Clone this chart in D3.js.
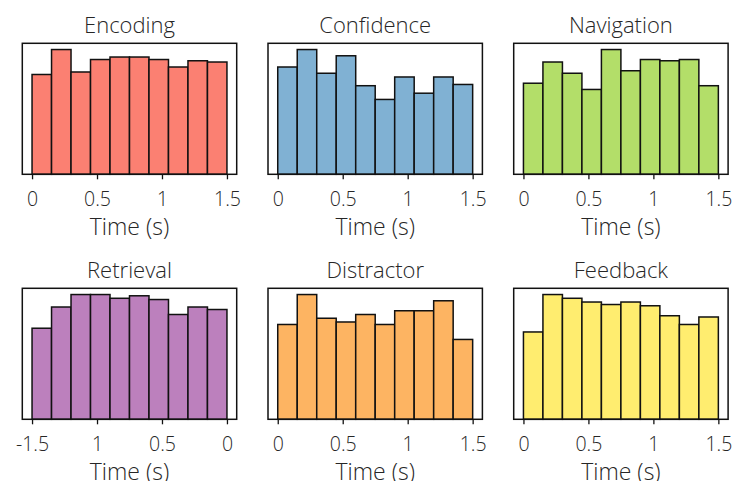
<!DOCTYPE html>
<html>
<head>
<meta charset="utf-8">
<script src="https://cdn.jsdelivr.net/npm/d3@7"></script>
<style>
  html, body { margin: 0; padding: 0; background: #fff; }
  svg text { font-family: 'Open Sans', 'Noto Sans', sans-serif; font-weight: 300; fill: #262626; }
</style>
</head>
<body>
<div id="chart"></div>
<script>
// Six histograms of event times, 10 bins each
const titles = ['Encoding', 'Confidence', 'Navigation', 'Retrieval', 'Distractor', 'Feedback'];
const colors = ['#fb8072', '#80b1d3', '#b3de69', '#bc80bd', '#fdb462', '#ffed6f'];

const edgesPos = [0, 0.15, 0.3, 0.45, 0.6, 0.75, 0.9, 1.05, 1.2, 1.35, 1.5];
const edgesNeg = [-1.5, -1.35, -1.2, -1.05, -0.9, -0.75, -0.6, -0.45, -0.3, -0.15, 0];

const countsEncoding   = [80, 100, 82, 92, 94, 94, 92, 86, 91, 90];
const countsConfidence = [86, 100, 81, 95, 71, 60, 78, 65, 78, 72];
const countsNavigation = [73, 90, 81, 68, 100, 83, 92, 91, 92, 71];
const countsRetrieval  = [73, 90, 100, 100, 97, 99, 96, 84, 90, 88];
const countsDistractor = [76, 100, 81, 78, 84, 76, 87, 87, 95, 64];
const countsFeedback   = [70, 100, 97, 94, 92, 94, 91, 83, 76, 82];

const ticksPos = [0, 0.5, 1, 1.5];
const tickLabelsPos = ['0', '0.5', '1', '1.5'];
const ticksNeg = [-1.5, -1, -0.5, 0];
const tickLabelsNeg = ['-1.5', '1', '0.5', '0'];   // as printed in the source

const xLabel = 'Time (s)';

const panels = [
  { counts: countsEncoding,   edges: edgesPos, ticks: ticksPos, labels: tickLabelsPos },
  { counts: countsConfidence, edges: edgesPos, ticks: ticksPos, labels: tickLabelsPos },
  { counts: countsNavigation, edges: edgesPos, ticks: ticksPos, labels: tickLabelsPos },
  { counts: countsRetrieval,  edges: edgesNeg, ticks: ticksNeg, labels: tickLabelsNeg },
  { counts: countsDistractor, edges: edgesPos, ticks: ticksPos, labels: tickLabelsPos },
  { counts: countsFeedback,   edges: edgesPos, ticks: ticksPos, labels: tickLabelsPos },
];

const W = 735, H = 481;
const left0 = 22.3, colStep = 245.7, pw = 214.4;
const top0 = 43.3, rowStep = 245, ph = 131;

const svg = d3.select('#chart').append('svg').attr('width', W).attr('height', H);

panels.forEach((p, i) => {
  const col = i % 3, row = Math.floor(i / 3);
  const g = svg.append('g')
    .attr('transform', `translate(${left0 + col * colStep},${top0 + row * rowStep})`);

  const lo = p.edges[0], hi = p.edges[p.edges.length - 1];
  const pad = (hi - lo) * 0.05;
  const x = d3.scaleLinear().domain([lo - pad, hi + pad]).range([0, pw]);
  const y = d3.scaleLinear().domain([0, d3.max(p.counts) * 1.05]).range([ph, 0]);

  const bins = p.counts.map((c, k) => ({ x0: p.edges[k], x1: p.edges[k + 1], c }));
  g.selectAll('rect.bar').data(bins).enter().append('rect')
    .attr('class', 'bar')
    .attr('x', d => x(d.x0))
    .attr('width', d => x(d.x1) - x(d.x0))
    .attr('y', d => y(d.c))
    .attr('height', d => y(0) - y(d.c))
    .attr('fill', colors[i])
    .attr('stroke', '#111')
    .attr('stroke-width', 1.5);

  // frame
  g.append('rect').attr('width', pw).attr('height', ph)
    .attr('fill', 'none').attr('stroke', '#111').attr('stroke-width', 1.5);

  const ax = g.append('g').attr('transform', `translate(0,${ph})`)
    .call(d3.axisBottom(x).tickValues(p.ticks).tickFormat((d, k) => p.labels[k]).tickSize(5).tickPadding(12.5));
  ax.select('.domain').remove();
  ax.selectAll('line').attr('stroke', '#111').attr('stroke-width', 1.3);
  ax.selectAll('text').style('font-size', '19.5px').style('font-family', null).attr('fill', '#262626');

  g.append('text').attr('x', pw / 2).attr('y', -10)
    .attr('text-anchor', 'middle').style('font-size', '22px').text(titles[i]);

  g.append('text').attr('x', pw / 2).attr('y', ph + 61)
    .attr('text-anchor', 'middle').style('font-size', '23px').text(xLabel);
});
</script>
</body>
</html>
